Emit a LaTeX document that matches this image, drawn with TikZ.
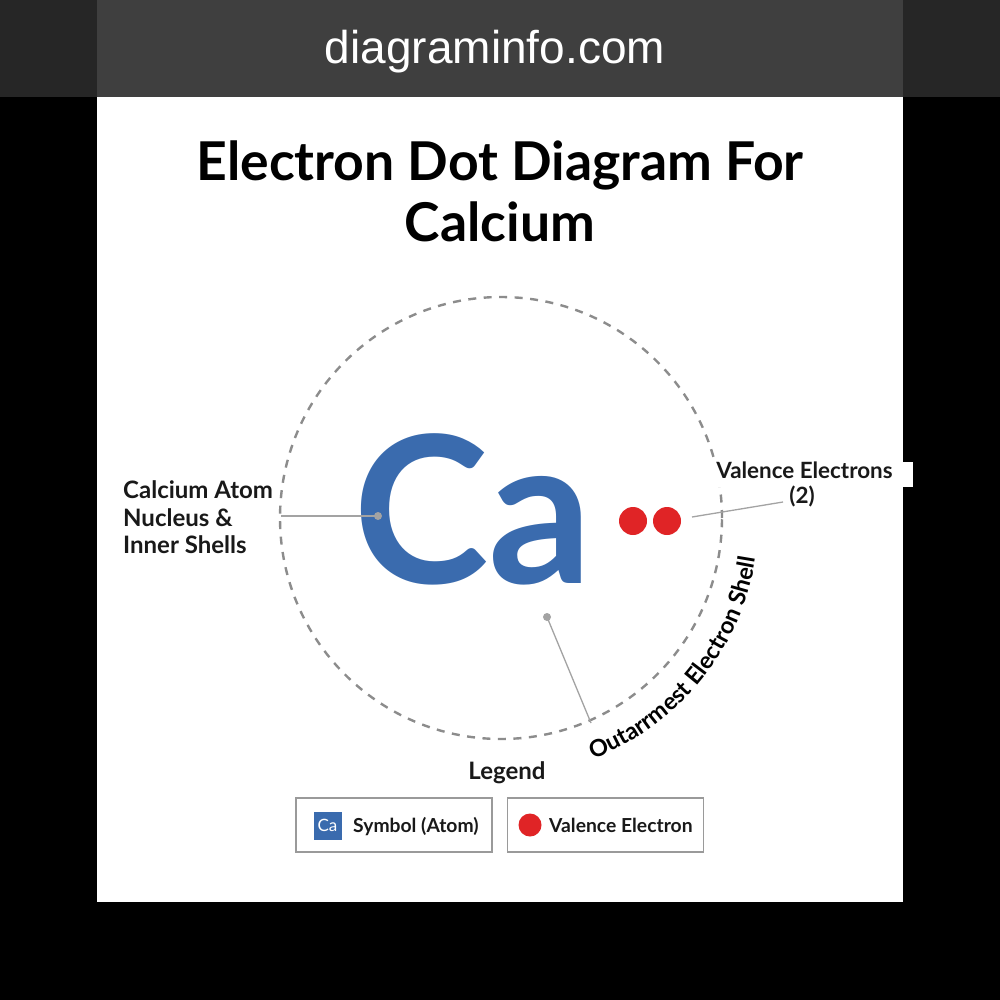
\documentclass[tikz,border=0pt]{standalone}
\usepackage{fontspec}
\setmainfont{Lato}
\newfontfamily\hdrfont{Liberation Sans}
\usetikzlibrary{decorations.text}
\definecolor{cablue}{HTML}{3A6BAE}
\definecolor{ered}{HTML}{E02426}
\definecolor{shellgray}{HTML}{8C8C8C}
\definecolor{leadgray}{HTML}{A3A3A3}
\definecolor{boxgray}{HTML}{9A9A9A}
\definecolor{hdrgray}{HTML}{3F3F3F}
\definecolor{hdrdark}{HTML}{262626}
\begin{document}
\begin{tikzpicture}[x=1pt,y=1pt,
  hdr/.style={font=\hdrfont\fontsize{46}{46}\selectfont, text=white, inner sep=0},
  ttl/.style={font=\fontsize{53.5}{53.5}\selectfont\bfseries, text=black, inner sep=0},
  lbltext/.style={font=\fontsize{24}{28}\selectfont\bfseries, text=black!90, inner sep=0},
  legtext/.style={font=\fontsize{19.3}{24}\selectfont\bfseries, text=black!90, inner sep=0},
  shelldash/.style={draw=shellgray, line width=2.4, dash pattern=on 8 off 7.5},
  leader/.style={draw=leadgray, line width=1.3},
  electron/.style={circle, fill=ered, minimum size=28, inner sep=0},
  legbox/.style={draw=boxgray, line width=1.3, minimum width=196, minimum height=54, inner sep=0},
]
\useasboundingbox (0,0) rectangle (1000,-1000);
% background
\fill[black] (0,0) rectangle (1000,-1000);
\fill[hdrdark] (0,0) rectangle (1000,-97);
\fill[hdrgray] (97,0) rectangle (903,-97);
\fill[white] (97,-97) rectangle (903,-902);
\node[hdr, anchor=base] (site) at (495,-64) {diagraminfo.com};

% title
\node[ttl, anchor=base] (t1) at (500,-181) {Electron Dot Diagram For};
\node[ttl, anchor=base] (t2) at (500,-241) {Calcium};

% shell
\coordinate (ctr) at (501,-518);
\draw[shelldash] (ctr) circle[radius=221];

% symbol
\node[font=\fontsize{205}{205}\selectfont\bfseries, text=cablue, inner sep=0, anchor=base] (ca) at (473,-583) {Ca};

% electrons
\node[electron] (e1) at (633,-521) {};
\node[electron] (e2) at (667,-521) {};

% left label
\node[lbltext, anchor=base west] (nuc1) at (123,-498) {Calcium Atom};
\node[lbltext, anchor=base west] (nuc2) at (123,-526) {Nucleus \&};
\node[lbltext, anchor=base west] (nuc3) at (123,-553) {Inner Shells};
\coordinate (nucL) at (281,-516);
\coordinate (nucdot) at (378,-516);
\draw[leader] (nucL) -- (nucdot);
\fill[leadgray] (nucdot) circle[radius=4];

% right label
\fill[white] (700,-462) rectangle (913,-487);
\node[lbltext, font=\fontsize{22.4}{26}\selectfont\bfseries, anchor=base] (val1) at (804.5,-478) {Valence Electrons};
\node[lbltext, font=\fontsize{22.4}{26}\selectfont\bfseries, anchor=base] (val2) at (802,-503) {(2)};
\coordinate (valA) at (692,-517);
\coordinate (valB) at (783,-502);
\draw[leader] (valA) -- (valB);

% shell leader
\coordinate (shdot) at (547,-617);
\coordinate (shend) at (591,-723);
\draw[leader] (shdot) -- (shend);
\fill[leadgray] (shdot) circle[radius=4];

% curved label
\path[postaction={decorate},
  decoration={text along path, text align=center,
    text={|\fontsize{23.5}{23.5}\selectfont\bfseries|Outarrmest Electron Shell}}]
  (ctr) ++(-76:258) arc[start angle=-76, end angle=-2, radius=258];

% legend
\node[legtext, font=\fontsize{24}{28}\selectfont\bfseries, anchor=base] (leg) at (507,-779) {Legend};
\node[legbox] (box1) at (394,-825) {};
\node[legbox] (box2) at (605.5,-825) {};
\node[fill=cablue, minimum size=28, inner sep=0, text=white, font=\fontsize{17}{17}\selectfont] (sym) at (327.5,-825.5) {Ca};
\node[legtext, anchor=base west] (symtxt) at (353,-832) {Symbol (Atom)};
\node[circle, fill=ered, minimum size=23, inner sep=0] (legdot) at (530,-825) {};
\node[legtext, anchor=base west] (eltxt) at (549,-832) {Valence Electron};
\end{tikzpicture}
\end{document}
